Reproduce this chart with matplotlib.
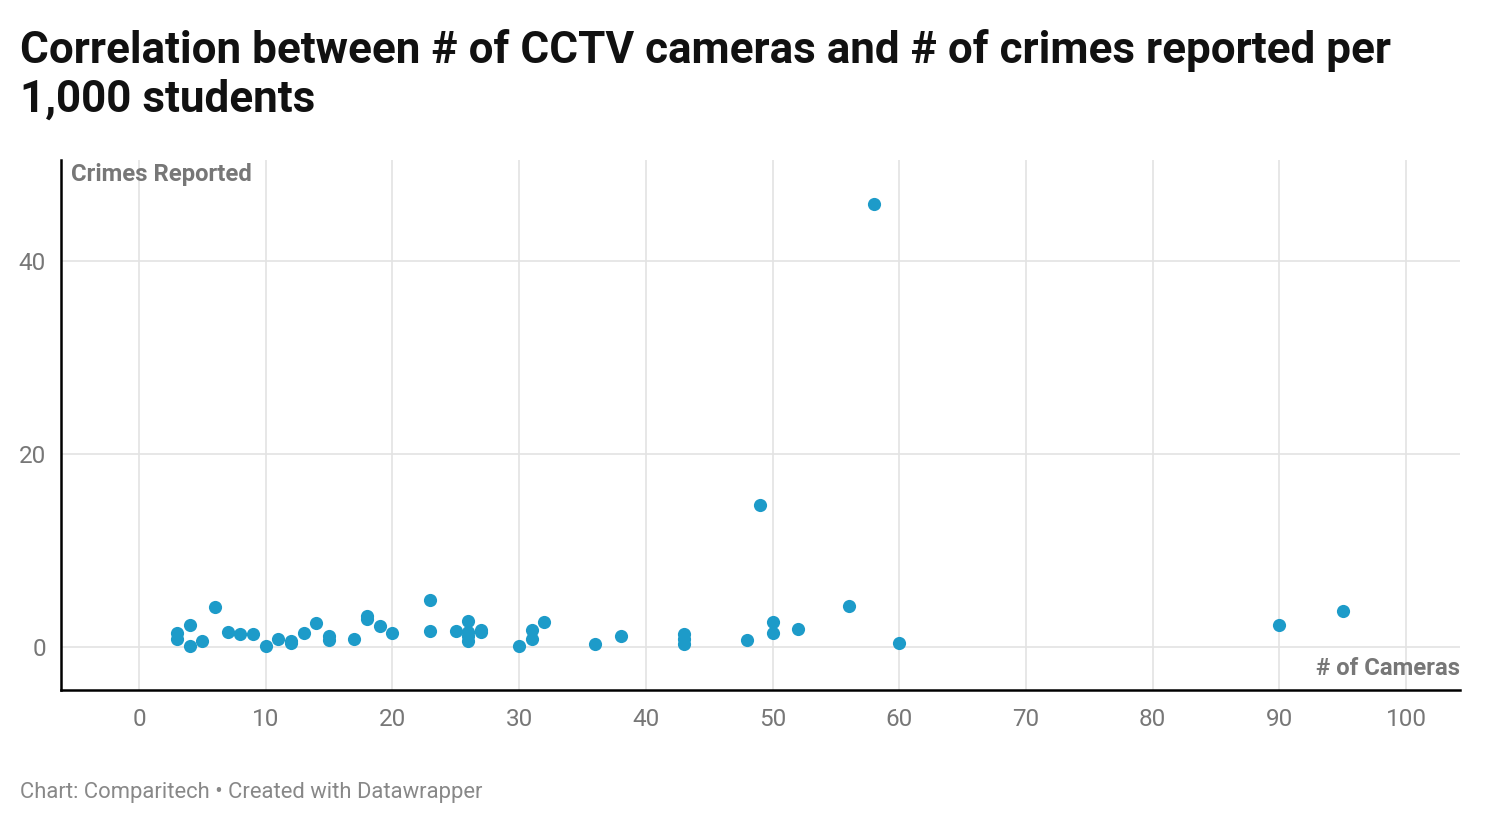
import numpy as np
import matplotlib.pyplot as plt

# cameras vs crimes reported per 1,000 students
cameras = [3, 3, 4, 4, 5, 6, 7, 8, 9, 10, 11, 12, 12, 13, 14, 15, 15, 17, 18, 18, 19, 20,
           23, 23, 25, 26, 26, 26, 26, 27, 27, 30, 31, 31, 32, 36, 38, 43, 43, 43, 48,
           49, 50, 50, 52, 56, 58, 60, 90, 95]
crimes = [1.4, 0.8, 2.3, 0.1, 0.6, 4.1, 1.6, 1.3, 1.3, 0.1, 0.8, 0.6, 0.4, 1.5, 2.5, 1.1, 0.7, 0.8, 3.2, 2.9, 2.2, 1.5,
          4.9, 1.7, 1.7, 2.7, 1.6, 1.1, 0.6, 1.8, 1.6, 0.1, 0.8, 1.8, 2.6, 0.3, 1.1, 1.3, 0.8, 0.3, 0.7,
          14.7, 2.6, 1.4, 1.9, 4.3, 45.9, 0.4, 2.3, 3.7]

xticks = [0, 10, 20, 30, 40, 50, 60, 70, 80, 90, 100]
yticks = [0, 20, 40]

plt.rcParams['font.family'] = ['Roboto', 'DejaVu Sans']

def main():
    fig = plt.figure(figsize=(15, 8.4), dpi=100)
    ax = fig.add_axes([0.0407, 0.1786, 0.9326, 0.6309])

    ax.scatter(cameras, crimes, s=90, color='#1d9bc9', zorder=3, linewidths=0)

    ax.set_xlim(-6.16, 104.26)
    ax.set_ylim(-4.46, 50.5)
    ax.set_xticks(xticks)
    ax.set_yticks(yticks)
    ax.tick_params(length=0, labelsize=17.5, labelcolor='#777777')
    ax.tick_params(axis='x', pad=13)
    ax.tick_params(axis='y', pad=11)
    ax.grid(True, color='#e3e3e3', lw=1.2, zorder=0)
    ax.set_axisbelow(True)
    for s in ['top', 'right']:
        ax.spines[s].set_visible(False)
    for s in ['left', 'bottom']:
        ax.spines[s].set_color('black')
        ax.spines[s].set_linewidth(1.8)

    ax.text(0.007, 0.995, 'Crimes Reported', transform=ax.transAxes, ha='left', va='top',
            fontsize=17.2, fontweight='bold', color='#777777')
    ax.text(1.0, 0.018, '# of Cameras', transform=ax.transAxes, ha='right', va='bottom',
            fontsize=17.2, fontweight='bold', color='#777777')

    fig.text(0.0133, 0.966, 'Correlation between # of CCTV cameras and # of crimes reported per\n1,000 students',
             ha='left', va='top', fontsize=31.7, fontweight='bold', color='#111111', linespacing=1.22)
    fig.text(0.0133, 0.056, 'Chart: Comparitech \u2022 Created with Datawrapper', ha='left', va='center',
             fontsize=15.8, color='#888888')

    fig.savefig('out.png', dpi=100)

if __name__ == '__main__':
    main()
